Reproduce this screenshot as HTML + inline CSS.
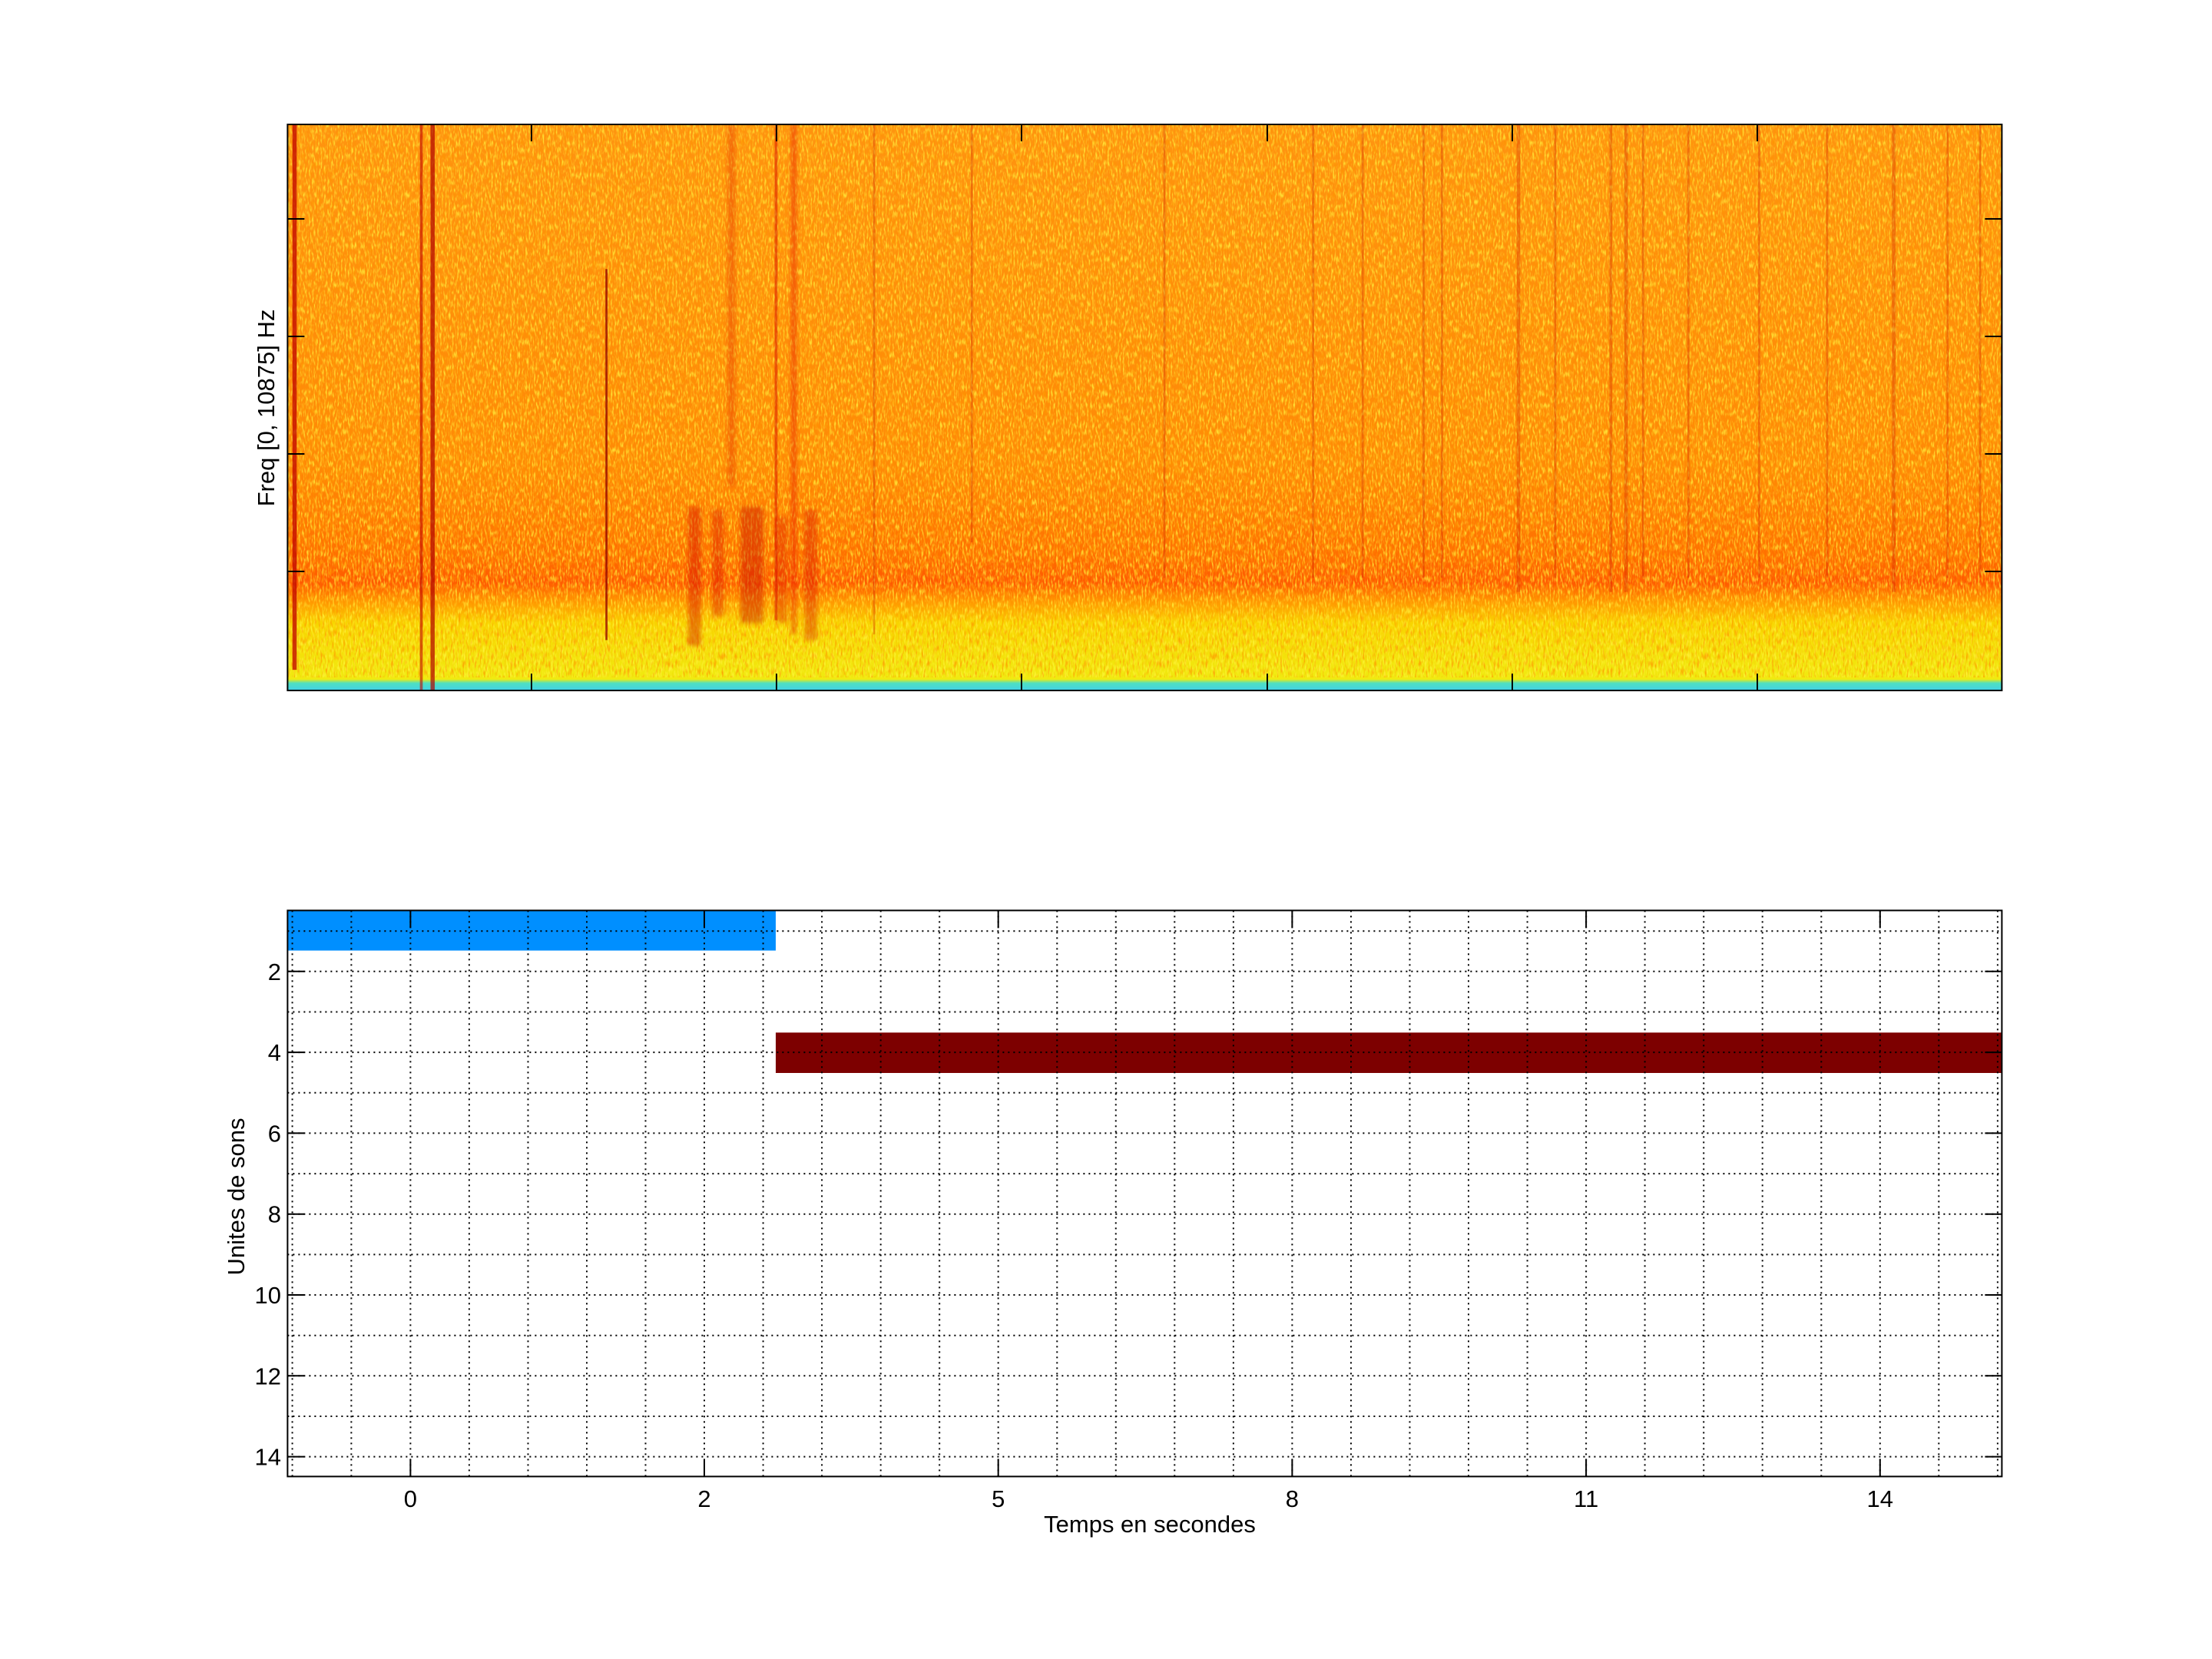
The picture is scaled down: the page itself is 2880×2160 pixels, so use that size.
<!DOCTYPE html>
<html><head><meta charset="utf-8"><style>html,body{margin:0;padding:0;background:#fff}svg{display:block}</style></head>
<body>
<svg width="2880" height="2160" viewBox="0 0 2880 2160" xmlns="http://www.w3.org/2000/svg" font-family="Liberation Sans, sans-serif">
<defs>
<linearGradient id="bg" x1="0" y1="0" x2="0" y2="1">
<stop offset="0" stop-color="#FF9410"/>
<stop offset="0.6" stop-color="#FF8A06"/>
<stop offset="0.76" stop-color="#FF7000"/>
<stop offset="0.81" stop-color="#FF5800"/>
<stop offset="0.845" stop-color="#FF9A00"/>
<stop offset="0.88" stop-color="#F8D400"/>
<stop offset="0.98" stop-color="#F0EA10"/>
<stop offset="0.987" stop-color="#50E0C0"/>
<stop offset="1" stop-color="#40D0E8"/>
</linearGradient>
<filter id="ny" x="0" y="0" width="1" height="1">
<feTurbulence type="fractalNoise" baseFrequency="0.45 0.12" numOctaves="2" seed="3"/>
<feColorMatrix type="matrix" values="0 0 0 0 1  0 0 0 0 0.92  0 0 0 0 0.05  3.2 0 0 0 -1.45"/>
</filter>
<filter id="nr" x="0" y="0" width="1" height="1">
<feTurbulence type="fractalNoise" baseFrequency="0.4 0.1" numOctaves="2" seed="11"/>
<feColorMatrix type="matrix" values="0 0 0 0 1  0 0 0 0 0.3  0 0 0 0 0  0 3 0 0 -1.45"/>
</filter>
<filter id="bl"><feGaussianBlur stdDeviation="1.5"/></filter>
<clipPath id="cp"><rect x="374.4" y="162" width="2232" height="737"/></clipPath>
</defs>

<g clip-path="url(#cp)">
<rect x="374.4" y="162" width="2232" height="737" fill="url(#bg)"/>
<rect x="374.4" y="162" width="2232" height="720" filter="url(#ny)" opacity="0.75"/>
<rect x="374.4" y="162" width="2232" height="720" filter="url(#nr)" opacity="0.75"/>
<g transform="scale(1.8438)">
<rect x="206.5" y="88" width="3" height="385" fill="#c00000" opacity="0.75"/>
<rect x="296.5" y="88" width="2" height="400" fill="#c00000" opacity="0.6"/>
<rect x="304" y="88" width="3" height="400" fill="#b00000" opacity="0.7"/>
<rect x="427.5" y="190" width="1.5" height="262" fill="#900000" opacity="0.75"/>
<g filter="url(#bl)">
<rect x="514" y="88" width="5" height="255" fill="#e02000" opacity="0.35"/>
<rect x="558.5" y="88" width="4" height="360" fill="#e00000" opacity="0.4"/>
<rect x="486" y="358" width="9" height="98" fill="#d00000" opacity="0.4"/>
<rect x="503" y="360" width="8" height="75" fill="#d00000" opacity="0.35"/>
<rect x="523" y="358" width="16" height="82" fill="#c00000" opacity="0.4"/>
<rect x="548" y="365" width="8" height="75" fill="#d00000" opacity="0.3"/>
<rect x="568" y="360" width="9" height="92" fill="#d00000" opacity="0.35"/>
</g>
<rect x="547" y="88" width="2" height="350" fill="#d00000" opacity="0.45"/>
<g fill="#c00000" opacity="0.25">
<rect x="616.5" y="88" width="1.5" height="360"/>
<rect x="685.5" y="88" width="1.5" height="295"/>
<rect x="821.5" y="88" width="1.5" height="320"/>
<rect x="926.5" y="88" width="1.5" height="320"/>
<rect x="961.5" y="88" width="1.5" height="320"/>
<rect x="1004.5" y="88" width="1.5" height="320"/>
<rect x="1017.5" y="88" width="1.5" height="320"/>
<rect x="1071" y="88" width="2.5" height="330"/>
<rect x="1097.5" y="88" width="1.5" height="320"/>
<rect x="1136.5" y="88" width="2" height="330"/>
<rect x="1147" y="88" width="2.5" height="330"/>
<rect x="1159.5" y="88" width="1.5" height="320"/>
<rect x="1191.5" y="88" width="1.5" height="320"/>
<rect x="1241.5" y="88" width="1.5" height="320"/>
<rect x="1289.5" y="88" width="1.5" height="320"/>
<rect x="1336" y="88" width="2.5" height="330"/>
<rect x="1374.5" y="88" width="1.5" height="320"/>
<rect x="1397.5" y="88" width="1.5" height="320"/>
</g>
</g>
</g>
<rect x="374.4" y="162" width="2232" height="737" fill="none" stroke="#000" stroke-width="2"/>
<g stroke="#000" stroke-width="2">
<path d="M692 162v22M1011 162v22M1330 162v22M1650 162v22M1969 162v22M2288 162v22 M692 899v-22M1011 899v-22M1330 899v-22M1650 899v-22M1969 899v-22M2288 899v-22"/>
<path d="M374.4 285h22M374.4 438h22M374.4 591h22M374.4 744h22 M2606.4 285h-22M2606.4 438h-22M2606.4 591h-22M2606.4 744h-22"/>
</g>
<text transform="translate(357,531) rotate(-90)" text-anchor="middle" font-size="31">Freq [0, 10875] Hz</text>

<!-- Bottom plot -->
<rect x="374.4" y="1185.4" width="2232" height="737" fill="#fff"/>
<rect x="374.4" y="1185.4" width="635.6" height="52.2" fill="#008FFF"/>
<rect x="1010" y="1344.4" width="1596.4" height="52.6" fill="#7D0000"/>
<g stroke="#000" stroke-width="2" stroke-dasharray="2 5" fill="none">
<path d="M380.6 1185.4V1922.4M457.4 1185.4V1922.4M534.4 1185.4V1922.4M610.9 1185.4V1922.4M687.5 1185.4V1922.4M764 1185.4V1922.4M840.5 1185.4V1922.4M917 1185.4V1922.4M993.6 1185.4V1922.4M1070.1 1185.4V1922.4M1146.7 1185.4V1922.4M1223.2 1185.4V1922.4M1299.7 1185.4V1922.4M1376.3 1185.4V1922.4M1452.8 1185.4V1922.4M1529.3 1185.4V1922.4M1605.9 1185.4V1922.4M1682.4 1185.4V1922.4M1759 1185.4V1922.4M1835.5 1185.4V1922.4M1912 1185.4V1922.4M1988.6 1185.4V1922.4M2065.1 1185.4V1922.4M2141.6 1185.4V1922.4M2218.2 1185.4V1922.4M2294.7 1185.4V1922.4M2371.3 1185.4V1922.4M2447.8 1185.4V1922.4M2524.3 1185.4V1922.4M2600.9 1185.4V1922.4"/>
<path d="M374.4 1212.2H2606.4M374.4 1264.8H2606.4M374.4 1317.5H2606.4M374.4 1370.1H2606.4M374.4 1422.8H2606.4M374.4 1475.4H2606.4M374.4 1528.1H2606.4M374.4 1580.7H2606.4M374.4 1633.4H2606.4M374.4 1686H2606.4M374.4 1738.7H2606.4M374.4 1791.3H2606.4M374.4 1844H2606.4M374.4 1896.6H2606.4"/>
</g>
<rect x="374.4" y="1185.4" width="2232" height="737" fill="none" stroke="#000" stroke-width="2"/>
<g stroke="#000" stroke-width="2">
<path d="M534.4 1922.4v-22M917 1922.4v-22M1299.7 1922.4v-22M1682.4 1922.4v-22M2065.1 1922.4v-22M2447.8 1922.4v-22 M534.4 1185.4v22M917 1185.4v22M1299.7 1185.4v22M1682.4 1185.4v22M2065.1 1185.4v22M2447.8 1185.4v22"/>
<path d="M374.4 1264.8h22M374.4 1370.1h22M374.4 1475.4h22M374.4 1580.7h22M374.4 1686h22M374.4 1791.3h22M374.4 1896.6h22 M2606.4 1264.8h-22M2606.4 1370.1h-22M2606.4 1475.4h-22M2606.4 1580.7h-22M2606.4 1686h-22M2606.4 1791.3h-22M2606.4 1896.6h-22"/>
</g>
<g font-size="31" text-anchor="end">
<text x="366" y="1275.8">2</text>
<text x="366" y="1381.1">4</text>
<text x="366" y="1486.4">6</text>
<text x="366" y="1591.7">8</text>
<text x="366" y="1697">10</text>
<text x="366" y="1802.3">12</text>
<text x="366" y="1907.6">14</text>
</g>
<g font-size="31" text-anchor="middle">
<text x="534.4" y="1962">0</text>
<text x="917" y="1962">2</text>
<text x="1299.7" y="1962">5</text>
<text x="1682.4" y="1962">8</text>
<text x="2065.1" y="1962">11</text>
<text x="2447.8" y="1962">14</text>
<text x="1497" y="1995">Temps en secondes</text>
</g>
<text transform="translate(318,1558) rotate(-90)" text-anchor="middle" font-size="31">Unites de sons</text>
</svg>
</body></html>
